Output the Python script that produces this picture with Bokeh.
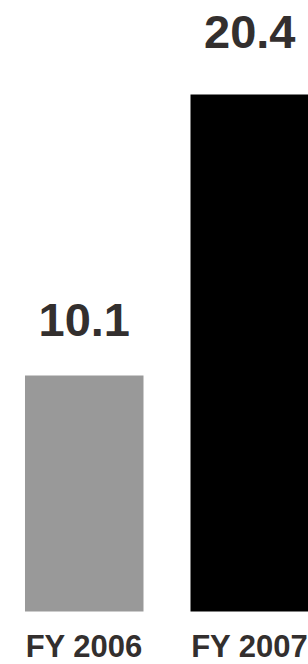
from bokeh.plotting import figure
from bokeh.models import ColumnDataSource, Range1d
from bokeh.core.properties import value
from bokeh.embed import file_html
from bokeh.resources import INLINE

categories = ["FY 2006", "FY 2007"]
values = [10.1, 20.4]
value_labels = ["10.1", "20.4"]
bar_colors = ["#999999", "#000000"]

# style / layout
BASE = 1.45
label_offsets = [-56, -63]
x_pos = [0, 1]

src = ColumnDataSource(dict(
    x=x_pos, top=values, color=bar_colors, lab=value_labels,
    cat=categories, off=label_offsets, base=[BASE] * len(values),
))

p = figure(width=308, height=664, output_backend="svg", toolbar_location=None,
           x_range=Range1d(-0.506, 1.355), y_range=Range1d(-0.493, 23.85),
           min_border=0)
p.axis.visible = False
p.grid.visible = False
p.outline_line_color = None
p.background_fill_color = "white"
p.border_fill_color = "white"

p.vbar(x="x", top="top", bottom="base", width=0.716, fill_color="color",
       line_color=None, source=src)

p.text(x="x", y="top", text="lab", y_offset="off", source=src,
       text_align="center", text_baseline="alphabetic",
       text_font=value("Liberation Sans"), text_font_style="bold",
       text_font_size="47px", text_color="#332f2e")

p.text(x="x", y="base", text="cat", y_offset=35, source=src,
       text_align="center", text_baseline="alphabetic",
       text_font=value("Liberation Sans"), text_font_style="bold",
       text_font_size="31px", text_color="#332f2e")

open("out.html", "w").write(file_html(p, INLINE))
